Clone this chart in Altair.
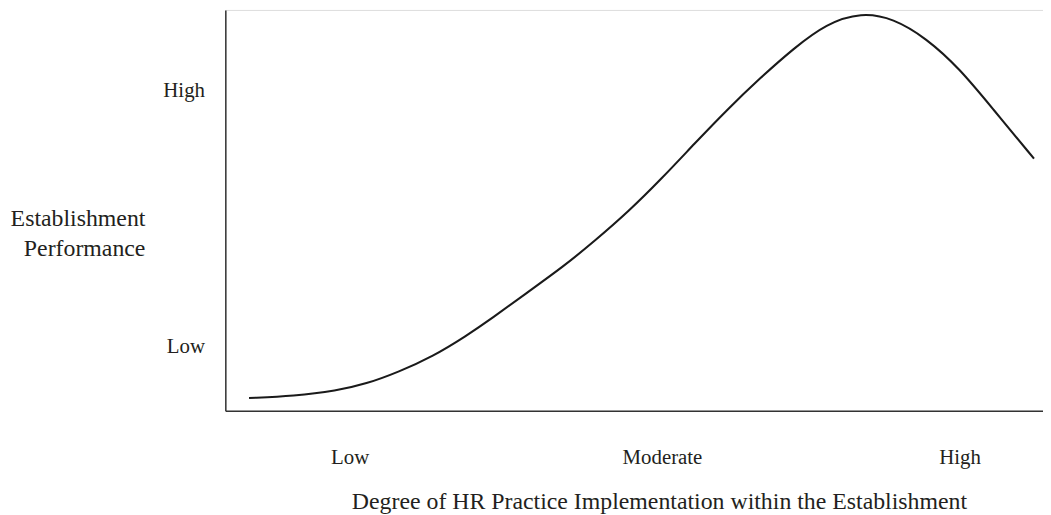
import altair as alt
import pandas as pd

# Curve (x: 0-100 implementation scale, y: 0-100 performance scale)
curve_x = [2.9, 8.4, 13.6, 17.2, 21.2, 25.4, 29.4, 32.7, 36.7, 41.3, 45.3, 49.3,
           53.4, 57.4, 61.4, 65.5, 69.5, 73.5, 77.8, 81.7, 85.7, 89.8, 93.8, 98.9]
curve_y = [3.2, 3.7, 5.0, 6.7, 9.7, 13.6, 18.6, 23.2, 29.2, 35.9, 42.6, 49.7,
           58.0, 66.7, 75.2, 83.2, 90.4, 96.6, 99.4, 97.9, 93.0, 85.4, 75.5, 62.9]

x_tick_values = [15.2, 53.4, 89.8]
x_tick_labels = ["Low", "Moderate", "High"]
y_tick_values = [16, 80]
y_tick_labels = ["Low", "High"]

x_title = "Degree of HR Practice Implementation within the Establishment"
y_title = ["Establishment", "Performance"]

df = pd.DataFrame({"x": curve_x, "y": curve_y})

def label_expr(values, labels):
    parts = []
    for v, l in zip(values, labels):
        parts.append(f"datum.value == {v} ? '{l}'")
    return " : ".join(parts) + " : ''"

FONT = "Liberation Serif"
TXT = "#231f20"

chart = alt.Chart(df).mark_line(
    color="#1a1a1a", strokeWidth=2.1, interpolate="basis"
).encode(
    x=alt.X("x:Q", scale=alt.Scale(domain=[0, 100], nice=False, zero=False),
            axis=alt.Axis(
                values=x_tick_values,
                labelExpr=label_expr(x_tick_values, x_tick_labels),
                title=x_title,
                grid=False, ticks=False, tickSize=0,
                domainColor="#333333", domainWidth=1.5,
                labelFont=FONT, labelFontSize=21, labelColor=TXT,
                labelBaseline="middle", labelPadding=47, labelAlign="center",
                titleFont=FONT, titleFontSize=24, titleColor=TXT,
                titleFontWeight="normal",
                titleX=437, titleY=98, titleAlign="center",
                titleBaseline="alphabetic", titleAnchor="start",
            )),
    y=alt.Y("y:Q", scale=alt.Scale(domain=[0, 100], nice=False, zero=False),
            axis=alt.Axis(
                values=y_tick_values,
                labelExpr=label_expr(y_tick_values, y_tick_labels),
                title=y_title,
                grid=False, ticks=False, tickSize=0,
                domainColor="#333333", domainWidth=1.5,
                labelFont=FONT, labelFontSize=21, labelColor=TXT,
                labelBaseline="middle", labelPadding=21, labelAlign="right",
                titleFont=FONT, titleFontSize=24, titleColor=TXT,
                titleFontWeight="normal", titleAngle=0,
                titleX=-81, titleY=210, titleAlign="right",
                titleBaseline="middle", titleLineHeight=30, titleAnchor="start",
            )),
).properties(
    width=824, height=404,
    autosize=alt.AutoSizeParams(type="none"),
    padding={"left": 219, "top": 0, "right": 0, "bottom": 103},
).configure_view(stroke=None).configure(background="white")

chart.save("out.html", embed_options={"renderer": "svg", "actions": False})
